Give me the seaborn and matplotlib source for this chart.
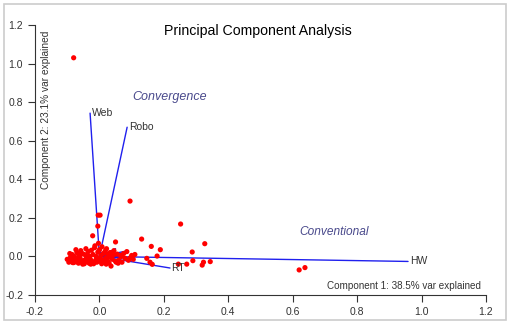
import matplotlib
matplotlib.use("Agg")
import matplotlib.pyplot as plt
import seaborn as sns
import pandas as pd
from matplotlib.patches import Rectangle

# ---- data ----
pc1 = [
    -0.08, 0.095, -0.004, 0.002, -0.005, 0.252, -0.021, 0.131, 0.327, 0.05,
    0.161, 0.189, 0.288, 0.179, 0.147, 0.157, 0.164, 0.095, 0.29, 0.245,
    0.271, 0.319, 0.323, 0.344, 0.62, 0.638, -0.003, 0.036,
    # main cluster
    -0.10, -0.095, -0.09, -0.088, -0.085, -0.082, -0.08, -0.078, -0.075, -0.072,
    -0.07, -0.068, -0.065, -0.062, -0.06, -0.058, -0.055, -0.052, -0.05, -0.048,
    -0.045, -0.042, -0.04, -0.038, -0.035, -0.032, -0.03, -0.028, -0.025, -0.022,
    -0.02, -0.018, -0.015, -0.012, -0.01, -0.008, -0.005, -0.002, 0.0, 0.003,
    0.005, 0.008, 0.01, 0.012, 0.015, 0.018, 0.02, 0.022, 0.025, 0.028,
    0.03, 0.033, 0.035, 0.04, 0.045, 0.05, 0.055, 0.06, 0.065, 0.07,
    0.075, 0.08, 0.085, 0.09, 0.1, 0.105, 0.11, -0.092, -0.073, -0.056,
    -0.043, -0.027, -0.014, 0.007, 0.017, 0.027, 0.038, 0.052, 0.068, -0.064,
    -0.036, -0.006, 0.012, 0.044, -0.083, -0.047, 0.021, 0.058,
]
pc2 = [
    1.03, 0.287, 0.214, 0.214, 0.157, 0.168, 0.107, 0.09, 0.066, 0.075,
    0.052, 0.035, 0.023, 0.002, -0.01, -0.03, -0.041, -0.008, -0.022, -0.04,
    -0.04, -0.045, -0.03, -0.027, -0.07, -0.058, 0.068, -0.05,
    # main cluster
    -0.015, -0.03, -0.005, -0.025, 0.01, -0.02, -0.032, 0.0, -0.012, -0.028,
    0.02, -0.018, -0.035, 0.005, -0.01, 0.03, -0.025, -0.04, 0.012, -0.02,
    -0.03, 0.04, -0.008, -0.022, 0.025, -0.035, 0.0, -0.015, 0.032, -0.028,
    0.01, -0.038, 0.045, -0.02, 0.0, -0.03, 0.022, -0.012, 0.035, -0.025,
    0.005, 0.05, -0.018, 0.015, -0.03, 0.028, -0.008, 0.04, -0.022, 0.01,
    -0.035, 0.02, 0.002, -0.015, 0.03, -0.025, 0.012, -0.02, 0.005, -0.03,
    0.015, -0.01, 0.025, -0.02, 0.005, -0.015, 0.01, 0.015, 0.035, 0.018,
    0.008, -0.04, 0.055, -0.038, 0.02, -0.005, 0.018, -0.03, 0.0, 0.0,
    0.005, -0.022, -0.025, 0.008, -0.032, -0.038, -0.04, -0.035,
]

var_names = ["Web", "Robo", "HW", "RT", "", "", "", ""]
load_x = [-0.029, 0.086, 0.958, 0.219, 0.09, 0.05, 0.10, 0.03]
load_y = [0.743, 0.67, -0.026, -0.06, 0.03, 0.04, -0.01, 0.02]

x_ticks = [-0.2, 0.0, 0.2, 0.4, 0.6, 0.8, 1.0, 1.2]
y_ticks = [-0.2, 0.0, 0.2, 0.4, 0.6, 0.8, 1.0, 1.2]

title = "Principal Component Analysis"
xlabel = "Component 1: 38.5% var explained"
ylabel = "Component 2: 23.1% var explained"

# ---- plot ----
sns.set_style("ticks")
plt.rcParams["font.family"] = ["Liberation Sans", "DejaVu Sans"]

fig = plt.figure(figsize=(5.10, 3.23), dpi=100)
fig.patches.append(Rectangle((4 / 510, 3 / 323), 502 / 510, 316 / 323, transform=fig.transFigure,
                             fill=False, edgecolor="#cccccc", linewidth=1.2))
ax = fig.add_axes([35 / 510, 1 - 295 / 323, 451 / 510, 270 / 323])

df = pd.DataFrame({"pc1": pc1, "pc2": pc2})
sns.scatterplot(data=df, x="pc1", y="pc2", ax=ax, color="#ff0000", s=14,
                edgecolor="none", zorder=3)

for name, lx, ly in zip(var_names, load_x, load_y):
    ax.plot([0, lx], [0, ly], color="#2020ee", lw=1.0, zorder=2)
    if name:
        ax.text(lx + 0.005, ly, name, fontsize=7.5, color="#333333", ha="left", va="center", zorder=4)

ax.text(0.219, 0.827, "Convergence", fontsize=9, style="italic", color="#4a4a8c", ha="center", va="center")
ax.text(0.729, 0.125, "Conventional", fontsize=8.6, style="italic", color="#4a4a8c", ha="center", va="center")

ax.set_xlim(-0.2, 1.2)
ax.set_ylim(-0.2, 1.2)
ax.set_xticks(x_ticks)
ax.set_yticks(y_ticks)
ax.set_xticklabels([f"{t:.1f}" for t in x_ticks])
ax.set_yticklabels([f"{t:.1f}" for t in y_ticks])
ax.tick_params(labelsize=7.5, labelcolor="#333333", color="#333333", length=5, width=0.8, direction="out")
for s in ["top", "right"]:
    ax.spines[s].set_visible(False)
for s in ["left", "bottom"]:
    ax.spines[s].set_color("#333333")
    ax.spines[s].set_linewidth(0.8)
ax.set_xlabel("")
ax.set_ylabel("")

ax.text(0.99, 0.035, xlabel, transform=ax.transAxes, fontsize=7.1, color="#333333", ha="right", va="center")
ax.text(0.025, 0.98, ylabel, transform=ax.transAxes, fontsize=7.3, color="#333333", rotation=90, ha="center", va="top")
fig.text(258 / 510, 1 - 31 / 323, title, fontsize=10.2, color="black", ha="center", va="center")

fig.savefig("out.png", dpi=100)
